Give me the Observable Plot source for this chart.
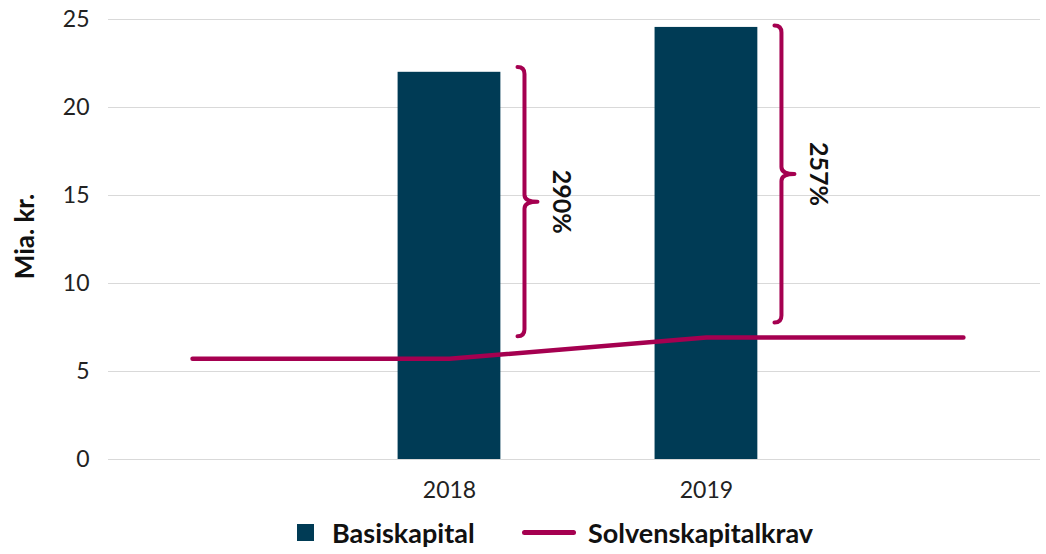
<!DOCTYPE html>
<html>
<head>
<meta charset="utf-8">
<script src="https://cdn.jsdelivr.net/npm/d3@7"></script>
<script src="https://cdn.jsdelivr.net/npm/@observablehq/plot@0.6"></script>
<style>
  html, body { margin: 0; padding: 0; background: #fff; }
  body { width: 1046px; font-family: "Source Sans Pro", Lato, sans-serif; }
  #legend { position: relative; height: 44px; font-weight: bold; font-size: 27px; color: #111; }
  .item { position: absolute; top: 0; height: 44px; display: flex; align-items: center; }
  .sq { width: 17px; height: 17px; background: #003B55; margin-right: 18px; }
  .ln { width: 54px; height: 5px; border-radius: 3px; background: #A50050; margin-right: 12px; }
</style>
</head>
<body>
<div id="chart"></div>
<div id="legend">
  <div class="item" style="left:297px"><div class="sq"></div><span>Basiskapital</span></div>
  <div class="item" style="left:522px"><div class="ln"></div><span>Solvenskapitalkrav</span></div>
</div>
<script>
// ---- data ----
const years = [2018, 2019];
const basiskapital = [22.0, 24.55];
const lineYears = [2017, 2018, 2019, 2020];
const solvenskapitalkrav = [5.72, 5.72, 6.93, 6.93];
const braceTop = [22.3, 24.66];
const braceBottom = [7.0, 7.78];
const ratioLabels = ["290%", "257%"];
const yTicks = [0, 5, 10, 15, 20, 25];

const barData = years.map((y, i) => ({year: y, value: basiskapital[i]}));
const lineData = lineYears.map((y, i) => ({year: y, value: solvenskapitalkrav[i]}));
const braceData = years.flatMap((y, i) => [
  {year: y, value: braceTop[i], id: i},
  {year: y, value: braceBottom[i], id: i}
]);
const labelData = years.map((y, i) => ({year: y, value: (braceTop[i] + braceBottom[i]) / 2, label: ratioLabels[i]}));

// custom curve drawing a curly brace between two points
function braceCurve(context) {
  let pts = [];
  return {
    areaStart() {}, areaEnd() {},
    lineStart() { pts = []; },
    point(x, y) { pts.push([+x, +y]); },
    lineEnd() {
      if (pts.length < 2) return;
      const x = pts[0][0];
      const y0 = Math.min(pts[0][1], pts[1][1]);
      const y1 = Math.max(pts[0][1], pts[1][1]);
      const ym = (y0 + y1) / 2;
      const w = 7, t = 13, r = 7;
      context.moveTo(x - w, y0);
      context.quadraticCurveTo(x, y0, x, y0 + r);
      context.lineTo(x, ym - r);
      context.quadraticCurveTo(x, ym, x + t, ym);
      context.quadraticCurveTo(x, ym, x, ym + r);
      context.lineTo(x, y1 - r);
      context.quadraticCurveTo(x, y1, x - w, y1);
    }
  };
}

const chart = Plot.plot({
  width: 1046,
  height: 510,
  marginLeft: 108,
  marginRight: 6,
  marginTop: 19,
  marginBottom: 51,
  style: {fontFamily: '"Source Sans Pro", Lato, sans-serif', fontSize: "23px", color: "#222", background: "#fff"},
  x: {type: "linear", domain: [2016.673, 2020.30]},
  y: {domain: [0, 25]},
  marks: [
    Plot.ruleY(yTicks, {stroke: "#d9d9d9", strokeWidth: 1.2}),
    Plot.axisY({ticks: yTicks, tickSize: 0, tickPadding: 19, label: null, fontSize: 23}),
    Plot.axisX({ticks: years, tickFormat: d => String(d), tickSize: 0, tickPadding: 22, label: null, fontSize: 23}),
    Plot.text(["Mia. kr."], {frameAnchor: "left", textAnchor: "middle", rotate: -90, dx: -83, dy: -3, fontWeight: "bold", fontSize: 26, fill: "#111"}),
    Plot.rectY(barData, {x1: d => d.year - 0.2, x2: d => d.year + 0.2, y: "value", fill: "#003B55"}),
    Plot.line(lineData, {x: "year", y: "value", stroke: "#A50050", strokeWidth: 4.5, strokeLinecap: "round", strokeLinejoin: "round"}),
    Plot.line(braceData, {x: "year", y: "value", z: "id", dx: 75, stroke: "#A50050", strokeWidth: 4, curve: braceCurve}),
    Plot.text(labelData, {x: "year", y: "value", text: "label", rotate: 90, dx: 112, fontWeight: "bold", fontSize: 25, fill: "#111"})
  ]
});
document.getElementById("chart").appendChild(chart);
</script>
</body>
</html>
